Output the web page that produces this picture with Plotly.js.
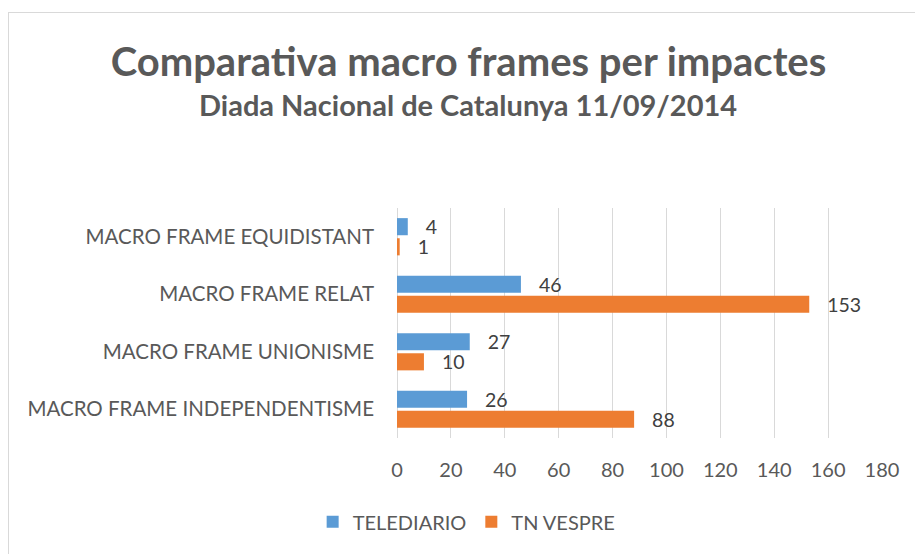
<!DOCTYPE html>
<html>
<head>
<meta charset="utf-8">
<script src="https://cdn.plot.ly/plotly-3.0.1.min.js"></script>
<style>
  html, body { margin: 0; padding: 0; background: #fff; }
  #wrap { position: relative; width: 915px; height: 554px; overflow: hidden; }
  #chart { position: absolute; left: 0; top: 0; width: 915px; height: 554px; }
  #frame { position: absolute; left: 8px; top: 12px; width: 1000px; height: 1000px;
           border-top: 1px solid #d9d9d9; border-left: 1px solid #d9d9d9; pointer-events: none; }
</style>
</head>
<body>
<div id="wrap">
  <div id="chart"></div>
  <div id="frame"></div>
</div>
<script>
const categories = [
  "MACRO FRAME EQUIDISTANT",
  "MACRO FRAME RELAT",
  "MACRO FRAME UNIONISME",
  "MACRO FRAME INDEPENDENTISME"
];
const telediario = [4, 46, 27, 26];
const tnVespre = [1, 153, 10, 88];
const xTicks = [0, 20, 40, 60, 80, 100, 120, 140, 160, 180];
const seriesNames = ["TELEDIARIO", "TN VESPRE"];
const titleText = "Comparativa macro frames per impactes";
const subtitleText = "Diada Nacional de Catalunya 11/09/2014";

const FONT = "Lato, 'Open Sans', sans-serif";
const TXT = "#595959";
const pad = "\u00a0\u00a0\u00a0";

const traces = [
  {
    type: "bar", orientation: "h", name: seriesNames[0],
    y: categories, x: telediario,
    marker: { color: "#5B9BD5" },
    text: telediario.map(v => pad + v), textposition: "outside", constraintext: "none",
    textfont: { family: FONT, size: 19.5, color: "#404040" },
    cliponaxis: false, hoverinfo: "x"
  },
  {
    type: "bar", orientation: "h", name: seriesNames[1],
    y: categories, x: tnVespre,
    marker: { color: "#ED7D31" },
    text: tnVespre.map(v => pad + v), textposition: "outside", constraintext: "none",
    textfont: { family: FONT, size: 19.5, color: "#404040" },
    cliponaxis: false, hoverinfo: "x"
  }
];

const layout = {
  width: 915, height: 554,
  paper_bgcolor: "rgba(0,0,0,0)", plot_bgcolor: "rgba(0,0,0,0)",
  margin: { l: 397, r: 33, t: 208, b: 116 },
  font: { family: FONT, color: TXT },
  title: {
    text: "<b>" + titleText + "</b>",
    font: { family: FONT, size: 40, color: TXT },
    x: 0.512, xref: "container", xanchor: "center",
    y: 0.888, yref: "container", yanchor: "middle"
  },
  annotations: [{
    text: "<b>" + subtitleText + "</b>",
    font: { family: FONT, size: 29, color: TXT },
    xref: "paper", yref: "paper", x: 0.147, y: 1.452,
    xanchor: "center", yanchor: "middle", showarrow: false
  }],
  barmode: "group", bargap: 0.30, bargroupgap: 0.15,
  xaxis: {
    range: [0, 180], tickvals: xTicks, ticktext: xTicks.map(String),
    showgrid: true, gridcolor: "#d9d9d9", gridwidth: 1,
    zeroline: true, zerolinecolor: "#d9d9d9", zerolinewidth: 1,
    showline: false, ticks: "", ticklabelstandoff: 18,
    tickfont: { family: FONT, size: 20, color: TXT }, fixedrange: true
  },
  yaxis: {
    type: "category", autorange: "reversed",
    showgrid: false, zeroline: false, showline: false, ticks: "",
    ticklabelstandoff: 22,
    tickfont: { family: FONT, size: 20.5, color: TXT }, fixedrange: true
  },
  showlegend: true,
  legend: {
    orientation: "h", x: 0.51, xref: "container", xanchor: "center",
    y: 0.058, yref: "container", yanchor: "middle",
    font: { family: FONT, size: 20, color: TXT },
    itemwidth: 30, traceorder: "normal"
  }
};

Plotly.newPlot("chart", traces, layout, { displayModeBar: false, staticPlot: true });
</script>
</body>
</html>
